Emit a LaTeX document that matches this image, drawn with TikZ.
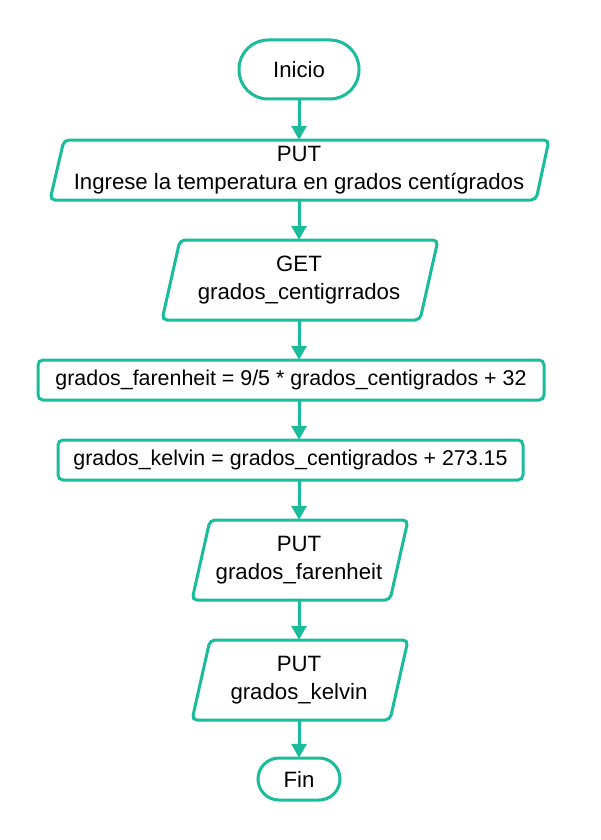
\documentclass[tikz,border=0pt]{standalone}
\usepackage{fontspec}
\setmainfont{Liberation Sans}
\usetikzlibrary{arrows.meta}
\definecolor{teal1}{RGB}{26,188,156}
\begin{document}
\begin{tikzpicture}[x=1pt,y=-1pt,
  lbl/.style={draw=none,inner sep=0pt,align=center,font=\fontsize{22.2}{28}\selectfont},
  plbl/.style={lbl,font=\fontsize{21.4}{26}\selectfont},
  shp/.style={draw=teal1,line width=3pt,fill=white,rounded corners=5pt},
  flow/.style={draw=teal1,line width=3pt,-{Triangle[width=15pt,length=14pt]}}]
\useasboundingbox[fill=white] (0,0) rectangle (600,840);
% Inicio
\draw[shp,rounded corners=29pt] (239,40) rectangle (359,99);
\node[lbl,minimum width=120pt,minimum height=59pt] (inicio) at (299,69.5) {Inicio};
% PUT 1
\draw[shp] (64,140) -- (549,140) -- (536,200) -- (50,200) -- cycle;
\node[lbl,minimum height=60pt] (put1) at (299,170) {PUT\\Ingrese la temperatura en grados centígrados};
% GET
\draw[shp] (180,240) -- (438,240) -- (420,320) -- (162,320) -- cycle;
\node[lbl,minimum height=80pt] (get) at (299,280) {GET\\grados\_centigrrados};
% process 1
\draw[shp] (38,360) rectangle (544,400);
\node[plbl,minimum height=40pt] (far) at (291,380) {grados\_farenheit = 9/5 * grados\_centigrados + 32};
% process 2
\draw[shp] (58,440) rectangle (523,480);
\node[plbl,minimum height=40pt] (kel) at (290.5,460) {grados\_kelvin = grados\_centigrados + 273.15};
% PUT 3
\draw[shp] (210,520) -- (408,520) -- (390,600) -- (192,600) -- cycle;
\node[lbl,minimum height=80pt] (put3) at (299,560) {PUT\\grados\_farenheit};
% PUT 4
\draw[shp] (210,640) -- (408,640) -- (390,720) -- (192,720) -- cycle;
\node[lbl,minimum height=80pt] (put4) at (299,680) {PUT\\grados\_kelvin};
% Fin
\draw[shp,rounded corners=21pt] (258,758) rectangle (340,800);
\node[lbl,minimum width=82pt,minimum height=42pt] (fin) at (299,779) {Fin};
% connectors
\draw[flow] (inicio.south) -- (put1.north);
\draw[flow] (put1.south) -- (get.north);
\draw[flow] (get.south) -- (far.north -| get.south);
\draw[flow] (far.south -| get.south) -- (kel.north -| get.south);
\draw[flow] (kel.south -| get.south) -- (put3.north);
\draw[flow] (put3.south) -- (put4.north);
\draw[flow] (put4.south) -- (fin.north);
\end{tikzpicture}
\end{document}
